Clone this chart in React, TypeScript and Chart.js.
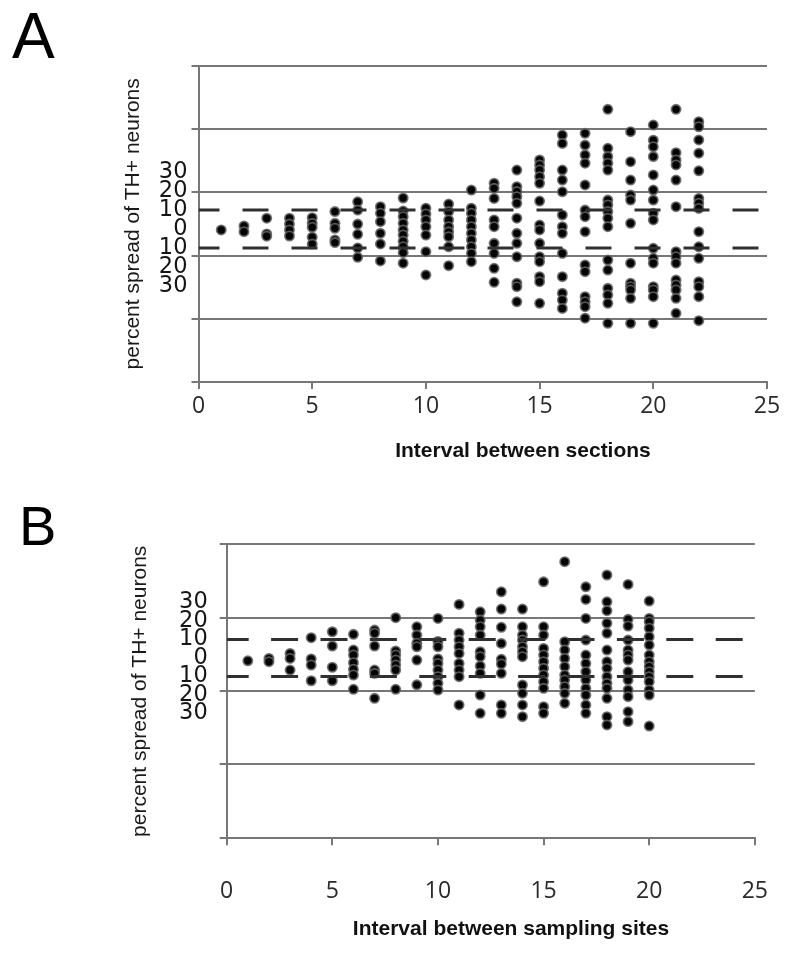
import React, { useEffect, useRef } from 'react';
import { Chart, registerables } from 'chart.js';

Chart.register(...registerables);

// ---- axis/tick data ----
const labelTicks = [-30, -20, -10, 0, 10, 20, 30];
const dashLevels = [10, -10];
const gridA = [-80.95, -47.6, -14.1, 19.6, 52.9, 86.4];
const gridB = [-97.5, -57.5, -17.8, 21.8, 61.5];

// ---- Panel A: interval between sections ----
const intervalsA = [1, 2, 3, 4, 5, 6, 7, 8, 9, 10, 11, 12, 13, 14, 15, 16, 17, 18, 19, 20, 21, 22];
const spreadA: number[][] = [
  [-0.5],
  [1.6, -1.4],
  [5.7, -2.6, -3.8],
  [5.7, 2.6, -0.5, -3.7],
  [6.0, 3.0, 0.9, -4.3, -8.0],
  [9.2, 3.0, 0.4, -5.8, -7.2],
  [14.4, 10.0, 2.6, -2.8, -10.0, -15.0],
  [11.8, 8.3, 3.9, -2.3, -7.9, -16.9],
  [16.4, 9.5, 6.5, 3.0, -0.5, -3.2, -6.5, -9.4, -12.5, -18.1],
  [11.0, 8.0, 4.8, 1.2, -3.2, -12.0, -24.3],
  [13.2, 9.2, 4.8, 1.2, -1.5, -4.1, -9.4, -19.4],
  [20.6, 11.0, 8.3, 4.8, 1.2, -2.3, -5.8, -9.4, -12.9, -17.3],
  [24.2, 21.5, 16.2, 4.8, 1.2, -7.6, -12.9, -20.8, -28.2],
  [31.2, 22.4, 19.8, 17.1, 13.6, 5.7, -2.3, -7.6, -14.7, -28.7, -30.5, -38.5],
  [36.5, 33.9, 31.2, 27.7, 24.2, 14.8, 2.1, -0.5, -7.6, -14.7, -17.3, -25.2, -27.9, -39.3],
  [49.7, 45.3, 31.2, 25.9, 19.7, 7.4, 1.2, -2.3, -12.9, -25.2, -34.0, -37.6, -42.0],
  [50.6, 44.4, 39.2, 34.8, 23.3, 10.0, 6.5, -1.4, -19.0, -22.6, -35.8, -38.5, -41.1, -47.2],
  [63.3, 42.7, 38.3, 34.8, 31.2, 15.3, 12.7, 9.2, 5.7, 1.2, -16.4, -21.7, -31.4, -34.9, -39.3, -49.9],
  [51.5, 35.6, 25.9, 18.0, 15.3, 3.0, -18.1, -28.7, -30.5, -32.3, -36.7, -49.9],
  [55.0, 47.0, 43.5, 38.3, 28.6, 20.6, 15.3, 8.3, 4.8, -10.2, -15.5, -18.1, -30.5, -32.3, -35.8, -49.9],
  [63.3, 40.4, 36.5, 33.9, 25.9, 11.8, -12.0, -14.7, -18.1, -27.0, -29.6, -32.3, -36.7, -44.6],
  [56.8, 54.1, 47.1, 40.1, 30.8, 16.2, 13.6, 10.9, -1.4, -9.4, -15.5, -27.9, -30.5, -35.8, -48.5],
];

// ---- Panel B: interval between sampling sites ----
const intervalsB = [1, 2, 3, 4, 5, 6, 7, 8, 9, 10, 11, 12, 13, 14, 15, 16, 17, 18, 19, 20];
const spreadB: number[][] = [
  [-1.5],
  [-0.2, -2.0],
  [2.5, -0.2, -6.5],
  [11.0, -0.5, -3.8, -12.3],
  [14.2, 6.5, -5.0, -12.3],
  [12.8, 4.3, 1.6, -2.5, -6.1, -9.2, -16.9],
  [15.1, 13.4, 6.5, -6.5, -8.3, -21.8],
  [21.8, 3.8, 1.6, -1.1, -3.8, -6.5, -16.9],
  [16.9, 12.4, 8.0, 6.1, -1.1, -14.5],
  [21.4, 9.0, 6.1, -0.5, -2.9, -6.5, -10.1, -13.7, -17.3],
  [29.0, 13.4, 9.7, 6.1, 2.5, -2.9, -6.5, -10.1, -25.4],
  [25.0, 20.5, 16.9, 12.4, 3.4, 0.7, -4.3, -8.3, -20.0, -29.9],
  [35.8, 26.5, 16.6, 7.9, -0.7, -3.2, -8.3, -25.4, -29.9],
  [26.5, 16.9, 12.4, 9.7, 6.1, 3.4, 0.7, -14.6, -19.1, -25.4, -31.7],
  [41.2, 16.9, 12.4, 5.2, 1.6, -2.0, -5.6, -9.2, -12.8, -16.4, -26.3, -29.9],
  [52.1, 8.8, 4.3, -0.2, -4.7, -9.2, -11.9, -15.5, -19.1, -24.5],
  [38.5, 31.7, 21.4, 9.7, 1.6, -2.9, -7.4, -11.9, -16.4, -20.0, -25.4, -29.9],
  [44.9, 30.4, 25.6, 18.8, 13.4, 4.3, -2.0, -5.6, -10.1, -13.7, -16.4, -21.8, -31.7, -36.2],
  [39.8, 20.9, 17.3, 9.7, 4.3, 1.6, -1.1, -7.4, -11.9, -17.3, -20.9, -29.0, -34.4],
  [30.8, 21.4, 19.6, 16.1, 11.5, 7.0, 1.6, -2.0, -4.7, -7.4, -10.1, -12.8, -17.3, -20.0, -36.8],
];

const GRID_COLOR = '#777777';

type PanelLayout = {
  intervals: number[];
  spread: number[][];
  grid: number[];
  left: number;
  top: number;
  right: number;
  bottom: number;
  xHeight: number;
  xPad: number;
  yPad: number;
  titlePad: number;
  dash: number[];
  dashOffset: number;
};

const near = (v: number, arr: number[]) => arr.some((g) => Math.abs(g - v) < 1e-6);

function buildConfig(p: PanelLayout): any {
  const points = p.intervals.flatMap((x, i) => p.spread[i].map((y) => ({ x, y })));
  const allTicks = [...p.grid, ...labelTicks].sort((a, b) => a - b);
  return {
    type: 'scatter',
    data: {
      datasets: [
        ...dashLevels.map((lv) => ({
          type: 'line',
          data: [
            { x: 0, y: lv },
            { x: 25, y: lv },
          ],
          borderColor: '#303030',
          borderWidth: 3,
          borderDash: p.dash,
          borderDashOffset: p.dashOffset,
          pointRadius: 0,
          fill: false,
          order: 0,
        })),
        {
          type: 'scatter',
          data: points,
          pointRadius: 4.6,
          backgroundColor: '#050505',
          borderColor: 'rgba(100,100,100,0.85)',
          borderWidth: 1.8,
          order: 1,
        },
      ],
    },
    options: {
      responsive: false,
      animation: false,
      events: [],
      layout: { padding: { left: 0, top: p.top, right: p.right, bottom: p.bottom } },
      plugins: { legend: { display: false }, tooltip: { enabled: false } },
      scales: {
        x: {
          type: 'linear',
          min: 0,
          max: 25,
          afterFit: (s: any) => {
            s.height = p.xHeight;
          },
          grid: {
            display: true,
            drawOnChartArea: false,
            drawTicks: true,
            tickLength: 7,
            color: GRID_COLOR,
            lineWidth: 2,
          },
          border: { display: true, color: GRID_COLOR, width: 2 },
          ticks: {
            stepSize: 5,
            padding: p.xPad,
            autoSkip: false,
            maxRotation: 0,
            color: '#2a2a2a',
            font: { family: 'Open Sans', size: 23 },
          },
        },
        y: {
          type: 'linear',
          min: p.grid[0],
          max: p.grid[p.grid.length - 1],
          afterBuildTicks: (s: any) => {
            s.ticks = allTicks.map((v) => ({ value: v }));
          },
          afterFit: (s: any) => {
            s.width = p.left;
          },
          grid: {
            display: true,
            drawTicks: true,
            tickLength: 7,
            lineWidth: 2,
            color: (ctx: any) => (ctx.tick && near(ctx.tick.value, p.grid) ? GRID_COLOR : 'rgba(0,0,0,0)'),
          },
          border: { display: true, color: GRID_COLOR, width: 2 },
          ticks: {
            autoSkip: false,
            padding: p.yPad,
            color: '#151515',
            font: { family: 'DejaVu Sans', size: 22.5 },
            callback: (v: number) => (near(v, labelTicks) ? String(Math.abs(v)) : ''),
          },
          title: {
            display: true,
            text: 'percent spread of TH+ neurons',
            color: '#1a1a1a',
            font: { family: 'Liberation Sans', size: 21 },
            padding: { top: p.titlePad, bottom: 0 },
          },
        },
      },
    },
  };
}

const layoutA: PanelLayout = {
  intervals: intervalsA,
  spread: spreadA,
  grid: gridA,
  left: 198.5,
  top: 65.7,
  right: 33,
  bottom: 48,
  xHeight: 50,
  xPad: 4,
  yPad: 4,
  titlePad: 121,
  dash: [26, 23],
  dashOffset: 5,
};

const layoutB: PanelLayout = {
  intervals: intervalsB,
  spread: spreadB,
  grid: gridB,
  left: 226.7,
  top: 64.3,
  right: 26,
  bottom: 38.7,
  xHeight: 80,
  xPad: 32,
  yPad: 12,
  titlePad: 127.4,
  dash: [27, 22.4],
  dashOffset: 5,
};

export default function App() {
  const refA = useRef<HTMLCanvasElement | null>(null);
  const refB = useRef<HTMLCanvasElement | null>(null);

  useEffect(() => {
    const a = new Chart(refA.current as HTMLCanvasElement, buildConfig(layoutA));
    const b = new Chart(refB.current as HTMLCanvasElement, buildConfig(layoutB));
    return () => {
      a.destroy();
      b.destroy();
    };
  }, []);

  const letter: React.CSSProperties = {
    position: 'absolute',
    fontFamily: '"Liberation Sans", Arial, sans-serif',
    lineHeight: 1,
    color: '#000',
  };
  const xTitle: React.CSSProperties = {
    position: 'absolute',
    fontFamily: '"Liberation Sans", Arial, sans-serif',
    fontWeight: 'bold',
    fontSize: 21,
    lineHeight: 1,
    color: '#111',
    whiteSpace: 'nowrap',
    transform: 'translate(-50%, -50%)',
  };

  return (
    <div style={{ position: 'absolute', left: 0, top: 0, width: 800, height: 957, background: '#fff', overflow: 'hidden' }}>
      <canvas ref={refA} width={800} height={480} style={{ position: 'absolute', left: 0, top: 0 }} />
      <canvas ref={refB} width={800} height={477} style={{ position: 'absolute', left: 0, top: 480 }} />
      <div style={{ ...letter, left: 12, top: 4, fontSize: 64 }}>A</div>
      <div style={{ ...letter, left: 19, top: 498, fontSize: 56 }}>B</div>
      <div style={{ ...xTitle, left: 523, top: 449 }}>Interval between sections</div>
      <div style={{ ...xTitle, left: 511, top: 927 }}>Interval between sampling sites</div>
    </div>
  );
}
